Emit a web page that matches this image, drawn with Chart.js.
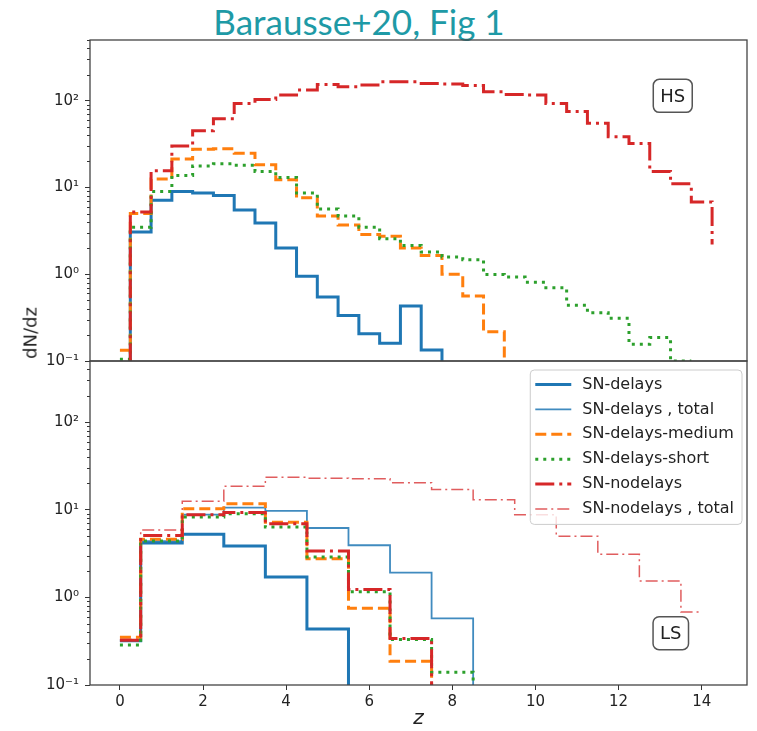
<!DOCTYPE html>
<html>
<head>
<meta charset="utf-8">
<script src="https://cdn.jsdelivr.net/npm/chart.js@4.4.0/dist/chart.umd.min.js"></script>
<style>
  body { margin: 0; background: #fff; width: 757px; height: 731px; overflow: hidden; position: relative; }
  #title { position: absolute; left: 0; top: 1px; width: 718px; text-align: center; font-family: "Lato"; font-size: 35px; color: #1e9aa6; line-height: 40px; }
  #ylab { position: absolute; left: 30px; top: 333px; transform: translate(-50%, -50%) rotate(-90deg); font-family: "DejaVu Sans"; font-size: 18px; color: #222; white-space: nowrap; }
  canvas { position: absolute; left: 0; }
</style>
</head>
<body>
<div id="title">Barausse+20, Fig 1</div>
<canvas id="topChart" width="757" height="340" style="top:30px"></canvas>
<canvas id="botChart" width="757" height="380" style="top:351px"></canvas>
<div id="ylab">dN/dz</div>
<script>
const hsEdges = [0, 0.25, 0.75, 1.25, 1.75, 2.25, 2.75, 3.25, 3.75, 4.25, 4.75, 5.25, 5.75, 6.25, 6.75, 7.25, 7.75, 8.25, 8.75, 9.25, 9.75, 10.25, 10.75, 11.25, 11.75, 12.25, 12.75, 13.25, 13.75, 14.25];
const hsDelays = [0.01, 3.07, 7.1, 9.0, 8.6, 8.1, 5.5, 3.9, 2.0, 0.95, 0.545, 0.335, 0.206, 0.16, 0.43, 0.134, 0.01];
const hsMedium = [0.133, 5.0, 12.5, 21.2, 27.6, 28, 24.8, 18.2, 12.3, 7.6, 4.7, 3.7, 2.86, 2.73, 2.0, 1.64, 1.0, 0.56, 0.218, 0.01];
const hsShort = [0.105, 3.47, 9.0, 13.7, 17.7, 18.8, 18, 15.3, 13.0, 8.6, 5.65, 4.7, 3.47, 2.57, 2.14, 1.8, 1.58, 1.47, 0.99, 0.93, 0.81, 0.70, 0.44, 0.36, 0.31, 0.156, 0.186, 0.1, 0.1];
const hsNodelays = [0.01, 5.2, 15.6, 30, 45, 62, 93, 103, 116, 133, 154, 145, 152, 165, 165, 158, 156, 150, 127, 118, 116, 93, 75, 55, 38.5, 32, 15.3, 11, 6.8, 2.2];

const lsEdges = [0, 0.5, 1.5, 2.5, 3.5, 4.5, 5.5, 6.5, 7.5, 8.5, 9.5, 10.5, 11.5, 12.5, 13.5, 14.0];
const lsDelays = [0.32, 4.18, 5.25, 3.86, 1.71, 0.435, 0.01];
const lsDelaysTotal = [0.32, 4.4, 8.8, 10.6, 9.7, 6.2, 3.94, 1.92, 0.575, 0.01];
const lsMedium = [0.35, 4.6, 10.3, 11.7, 7.2, 2.77, 0.75, 0.187, 0.01];
const lsShort = [0.286, 4.4, 8.3, 9.0, 6.35, 2.9, 1.16, 0.33, 0.14, 0.01];
const lsNodelays = [0.325, 5.1, 8.8, 9.3, 6.95, 3.39, 1.23, 0.34, 0.01];
const lsNodelaysTotal = [0.33, 5.9, 12.5, 18.6, 23.6, 23, 22.6, 20.4, 17.1, 13.0, 8.8, 5.0, 3.1, 1.54, 0.68, 0.68];

const seriesNames = ['SN-delays', 'SN-delays , total', 'SN-delays-medium', 'SN-delays-short', 'SN-nodelays', 'SN-nodelays , total'];
const xTicks = [0, 2, 4, 6, 8, 10, 12, 14];
const yTicks = [0.1, 1, 10, 100];
const yTickLabels = ['10\u207B\u00B9', '10\u2070', '10\u00B9', '10\u00B2'];

const styles = {
    'SN-delays': { borderColor: '#1f77b4', borderWidth: 3, borderDash: [] },
    'SN-delays , total': { borderColor: 'rgba(31,119,180,0.85)', borderWidth: 1.8, borderDash: [] },
    'SN-delays-medium': { borderColor: '#ff7f0e', borderWidth: 3, borderDash: [11, 5] },
    'SN-delays-short': { borderColor: '#2ca02c', borderWidth: 3, borderDash: [3, 5] },
    'SN-nodelays': { borderColor: '#d62728', borderWidth: 3, borderDash: [19, 5, 3, 5] },
    'SN-nodelays , total': { borderColor: 'rgba(214,39,40,0.75)', borderWidth: 1.5, borderDash: [12, 4, 2, 4] }
};

function makeDataset(name, edges, values, order) {
    return {
        label: name,
        data: values.map((v, i) => ({ x: edges[i], y: v })),
        stepped: 'before',
        pointRadius: 0,
        fill: false,
        borderCapStyle: 'butt',
        order: order,
        ...styles[name]
    };
}

const frameAndMinor = {
    id: 'frameAndMinor',
    afterDraw(chart) {
        const ctx = chart.ctx, a = chart.chartArea, y = chart.scales.y;
        ctx.save();
        ctx.strokeStyle = '#333';
        ctx.lineWidth = 1;
        for (const d of yTicks) {
            for (let k = 2; k < 10; k++) {
                const v = d * k;
                if (v > y.max) continue;
                const py = Math.round(y.getPixelForValue(v)) + 0.5;
                ctx.beginPath();
                ctx.moveTo(a.left - 3, py);
                ctx.lineTo(a.left, py);
                ctx.stroke();
            }
        }
        ctx.strokeStyle = '#444';
        ctx.lineWidth = 1.3;
        ctx.strokeRect(a.left, a.top, a.right - a.left, a.bottom - a.top);

        const tag = chart.options.plugins.panelTag;
        if (tag) {
            const cx = a.left + tag.fx * (a.right - a.left);
            const cy = a.top + tag.fy * (a.bottom - a.top);
            ctx.font = '18px "DejaVu Sans"';
            const w = ctx.measureText(tag.text).width + 14, h = 33;
            ctx.beginPath();
            ctx.roundRect(cx - w / 2, cy - h / 2, w, h, 6);
            ctx.fillStyle = '#fff';
            ctx.fill();
            ctx.strokeStyle = '#555';
            ctx.lineWidth = 1.5;
            ctx.stroke();
            ctx.fillStyle = '#222';
            ctx.textAlign = 'center';
            ctx.textBaseline = 'middle';
            ctx.fillText(tag.text, cx, cy + 1);
        }
        ctx.restore();
    }
};

const innerLegend = {
    id: 'innerLegend',
    afterDraw(chart) {
        if (!chart.options.plugins.innerLegend) return;
        const ctx = chart.ctx, a = chart.chartArea;
        const sets = chart.data.datasets;
        ctx.save();
        ctx.font = '16px "DejaVu Sans"';
        const textW = Math.max(...sets.map(s => ctx.measureText(s.label).width));
        const textX = 52, rowH = 24.9;
        const w = textX + textW + 8, h = rowH * sets.length + 5;
        const left = a.right - 5 - w, top = a.top + 9;
        ctx.beginPath();
        ctx.roundRect(left, top, w, h, 4);
        ctx.fillStyle = 'rgba(255,255,255,0.8)';
        ctx.fill();
        ctx.strokeStyle = '#cccccc';
        ctx.lineWidth = 1;
        ctx.stroke();
        sets.forEach((s, i) => {
            const cy = top + 14.5 + i * rowH;
            ctx.beginPath();
            ctx.setLineDash(s.borderDash);
            ctx.lineWidth = s.borderWidth;
            ctx.strokeStyle = s.borderColor;
            ctx.moveTo(left + 5, cy);
            ctx.lineTo(left + 41, cy);
            ctx.stroke();
            ctx.setLineDash([]);
            ctx.fillStyle = '#222';
            ctx.textBaseline = 'middle';
            ctx.fillText(s.label, left + textX, cy);
        });
        ctx.restore();
    }
};

function makeOptions(showX, tag, legend, padding) {
    return {
        responsive: false,
        animation: false,
        layout: { padding: padding },
        plugins: {
            legend: { display: false },
            tooltip: { enabled: false },
            panelTag: tag,
            innerLegend: legend
        },
        scales: {
            x: {
                type: 'linear',
                min: -0.72,
                max: 15.09,
                display: showX,
                afterBuildTicks: s => { s.ticks = xTicks.map(v => ({ value: v })); },
                afterFit: s => {
                    if (showX) s.height = 46;
                    s.paddingLeft = 0;
                    s.paddingRight = 0;
                },
                grid: { drawOnChartArea: false, tickLength: 5, color: '#333' },
                border: { display: false },
                ticks: { font: { family: 'DejaVu Sans', size: 15 }, color: '#222', padding: 3, maxRotation: 0 },
                title: { display: true, text: 'z', color: '#222', padding: 0, font: { family: 'DejaVu Sans', style: 'italic', size: 20 } }
            },
            y: {
                type: 'logarithmic',
                min: 0.1,
                max: 500,
                afterBuildTicks: s => { s.ticks = yTicks.map(v => ({ value: v })); },
                afterFit: s => {
                    s.width = 90;
                    s.paddingTop = 0;
                    s.paddingBottom = 0;
                },
                grid: { drawOnChartArea: false, tickLength: 5, color: '#333' },
                border: { display: false },
                ticks: {
                    font: { family: 'DejaVu Sans', size: 15 },
                    color: '#222',
                    padding: 6,
                    callback: (v, i) => yTickLabels[i]
                }
            }
        }
    };
}

const topSets = [
    makeDataset(seriesNames[0], hsEdges, hsDelays, 6),
    makeDataset(seriesNames[2], hsEdges, hsMedium, 4),
    makeDataset(seriesNames[3], hsEdges, hsShort, 3),
    makeDataset(seriesNames[4], hsEdges, hsNodelays, 2)
];

const botSets = [
    makeDataset(seriesNames[0], lsEdges, lsDelays, 6),
    makeDataset(seriesNames[1], lsEdges, lsDelaysTotal, 5),
    makeDataset(seriesNames[2], lsEdges, lsMedium, 4),
    makeDataset(seriesNames[3], lsEdges, lsShort, 3),
    makeDataset(seriesNames[4], lsEdges, lsNodelays, 2),
    makeDataset(seriesNames[5], lsEdges, lsNodelaysTotal, 1)
];

new Chart(document.getElementById('topChart'), {
    type: 'line',
    data: { datasets: topSets },
    options: makeOptions(false, { text: 'HS', fx: 0.887, fy: 0.174 }, false, { top: 10, right: 10, bottom: 9, left: 0 }),
    plugins: [frameAndMinor]
});

new Chart(document.getElementById('botChart'), {
    type: 'line',
    data: { datasets: botSets },
    options: makeOptions(true, { text: 'LS', fx: 0.884, fy: 0.84 }, true, { top: 10, right: 10, bottom: 0, left: 0 }),
    plugins: [frameAndMinor, innerLegend]
});
</script>
</body>
</html>
